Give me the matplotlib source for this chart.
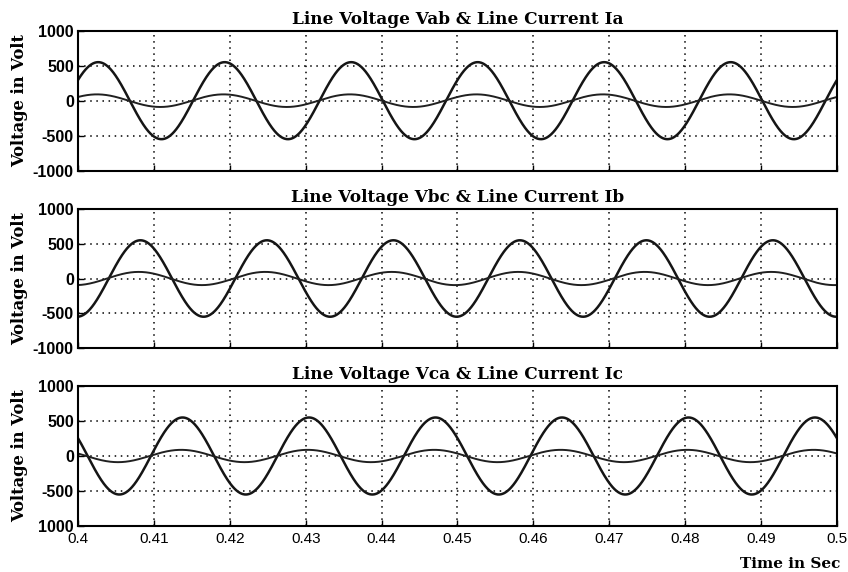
import numpy as np
import matplotlib
matplotlib.use("Agg")
import matplotlib.pyplot as plt

# ---- data ----
titles = ["Line Voltage Vab & Line Current Ia",
          "Line Voltage Vbc & Line Current Ib",
          "Line Voltage Vca & Line Current Ic"]
t_start, t_end = 0.4, 0.5
freq_hz = 60.0
voltage_amp = [550, 550, 550]
voltage_first_peak = [0.40266, 0.40822, 0.41377]
current_amp = [90, 95, 88]
current_first_peak = [0.40250, 0.40800, 0.41360]
x_ticks = [0.4, 0.41, 0.42, 0.43, 0.44, 0.45, 0.46, 0.47, 0.48, 0.49, 0.5]
x_tick_labels = ["0.4", "0.41", "0.42", "0.43", "0.44", "0.45", "0.46", "0.47", "0.48", "0.49", "0.5"]
y_ticks = [-1000, -500, 0, 500, 1000]
y_tick_labels = ["-1000", "-500", "0", "500", "1000"]
y_tick_labels_last = ["1000", "-500", "0", "500", "1000"]

t = np.linspace(t_start, t_end, 2001)

fig = plt.figure(figsize=(8.48, 5.72), dpi=100)
positions = [[0.092, 0.7016, 0.895, 0.2448],
             [0.092, 0.3916, 0.895, 0.2430],
             [0.092, 0.0804, 0.895, 0.2448]]

title_font = dict(family="DejaVu Serif", weight="bold", size=12.2)
ylabel_font = dict(family="DejaVu Serif", weight="bold", size=11.8)
xlabel_font = dict(family="DejaVu Serif", weight="bold", size=11)
ytick_font = dict(family="Liberation Sans", weight="bold", size=11.5)
xtick_font = dict(family="Liberation Sans", weight="normal", size=11)

for i in range(3):
    ax = fig.add_axes(positions[i])
    v = voltage_amp[i] * np.cos(2 * np.pi * freq_hz * (t - voltage_first_peak[i]))
    c = current_amp[i] * np.cos(2 * np.pi * freq_hz * (t - current_first_peak[i]))
    ax.plot(t, v, color="#151515", lw=1.8)
    ax.plot(t, c, color="#202020", lw=1.4)
    ax.set_xlim(t_start, t_end)
    ax.set_ylim(-1000, 1000)
    ax.set_xticks(x_ticks)
    ax.set_yticks(y_ticks)
    labs = y_tick_labels_last if i == 2 else y_tick_labels
    ax.set_yticklabels(labs, **ytick_font)
    if i == 2:
        ax.set_xticklabels(x_tick_labels, **xtick_font)
        ax.set_xlabel("Time in Sec", **xlabel_font)
        ax.xaxis.set_label_coords(1.004, -0.22)
        ax.xaxis.label.set_ha("right")
    else:
        ax.set_xticklabels([])
    ax.tick_params(direction="in", length=4, width=1, pad=3, colors="black")
    ax.tick_params(axis="x", pad=4)
    ax.grid(True, color="black", linestyle=(0, (1, 3)), linewidth=1.1)
    for s in ax.spines.values():
        s.set_linewidth(1.5)
        s.set_color("black")
    ax.set_title(titles[i], pad=5, **title_font)
    ax.set_ylabel("Voltage in Volt", **ylabel_font)
    ax.yaxis.set_label_coords(-0.066, 0.5)

fig.savefig("out.png", dpi=100)
